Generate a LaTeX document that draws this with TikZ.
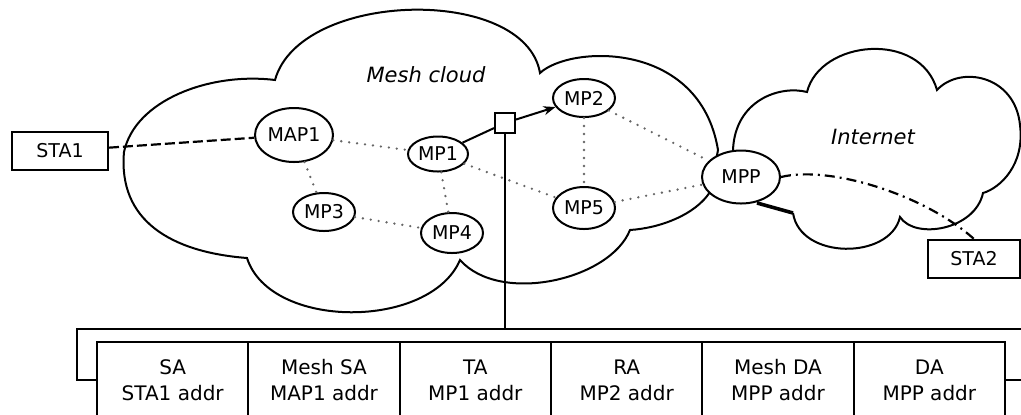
\documentclass[tikz,border=0pt]{standalone}
\usepackage{fontspec}
\setmainfont{DejaVu Sans}
\usetikzlibrary{shapes.geometric,arrows.meta}

\tikzset{
  mp/.style={ellipse,draw,line width=1pt,fill=white,inner sep=0pt,minimum width=31pt,minimum height=19pt,font=\fontsize{9.5}{11}\selectfont},
  bigmp/.style={mp,minimum width=39pt,minimum height=27pt},
  sta/.style={draw,line width=1pt,fill=white,minimum width=48pt,minimum height=19pt,font=\fontsize{9.5}{11}\selectfont},
  field/.style={draw,line width=1.1pt,minimum width=75.67pt,minimum height=38pt,align=center,font=\fontsize{10}{13}\selectfont},
  cloudline/.style={line width=1pt},
  label/.style={font=\itshape\fontsize{10.5}{12}\selectfont},
  radio/.style={gray!80!black,line width=1.3pt,line cap=round,dash pattern=on 0pt off 4pt},
  wired/.style={line width=1.1pt,dash pattern=on 5pt off 2pt},
  route/.style={line width=1.1pt,dash pattern=on 5pt off 2.5pt on 1pt off 2.5pt},
}

\begin{document}
\begin{tikzpicture}[x=0.5pt,y=-0.5pt]
    \useasboundingbox (0,0) rectangle (1021,414);

    % mesh cloud
    \draw[cloudline] (124,152) .. controls (135,100) and (210,72) .. (275,80)
        .. controls (300,-10) and (525,-15) .. (540,73)
        .. controls (570,45) and (700,40) .. (718,150)
        -- (710,192)
        .. controls (695,215) and (660,228) .. (630,230)
        .. controls (610,280) and (500,305) .. (460,260)
        .. controls (430,330) and (270,330) .. (247,258)
        .. controls (170,252) and (118,220) .. (124,152) -- cycle;
    % internet cloud
    \draw[cloudline] (733,150) .. controls (735,100) and (780,85) .. (807,92)
        .. controls (820,40) and (920,30) .. (937,90)
        .. controls (960,65) and (1015,75) .. (1020,125)
        .. controls (1025,165) and (1000,188) .. (983,193)
        .. controls (975,230) and (915,240) .. (900,217)
        .. controls (890,260) and (800,260) .. (793,213);
    \draw[line width=1.8pt] (793,213) -- (757,203);

    \node[label] (meshlbl) at (426,75) {Mesh cloud};
    \node[label] (netlbl) at (873,137) {Internet};

    % stations and mesh points
    \node[sta] (sta1) at (60,151) {STA1};
    \node[sta,minimum width=46pt] (sta2) at (974,259) {STA2};
    \node[bigmp] (map1) at (294,135) {MAP1};
    \node[mp,minimum width=30pt,minimum height=17.5pt] (mp1) at (438,154) {MP1};
    \node[mp] (mp2) at (584,98) {MP2};
    \node[mp] (mp3) at (324,212) {MP3};
    \node[mp,minimum height=20pt] (mp4) at (452,233) {MP4};
    \node[mp,minimum height=21pt] (mp5) at (584,208) {MP5};
    \node[bigmp,minimum height=26.5pt] (mpp) at (741,177) {MPP};
    \node[draw,line width=1pt,fill=white,minimum size=10pt,inner sep=0pt] (sq) at (505,123) {};

    % links
    \draw[wired] (sta1) -- (map1);
    \draw[radio] (map1) -- (mp1);
    \draw[radio] (map1) -- (mp3);
    \draw[radio] (mp3) -- (mp4);
    \draw[radio] (mp1) -- (mp4);
    \draw[radio] (mp1) -- (mp5);
    \draw[radio] (mp2) -- (mp5);
    \draw[radio] (mp2) -- (mpp);
    \draw[radio] (mp5) -- (mpp);
    \draw[line width=1pt] (mp1) -- (sq);
    \draw[line width=1pt,-{Stealth[length=6pt,width=4.5pt]}] (sq) -- (mp2);
    \draw[route] (mpp.east) .. controls (830,165) and (925,195) .. (sta2.north);

    % frame header
    \coordinate (top) at (1021,329);
    \foreach \fld/\who [count=\k] in {SA/STA1,Mesh SA/MAP1,TA/MP1,RA/MP2,Mesh DA/MPP,DA/MPP}
        \node[field] (f\k) at ({97+151.33*(\k-0.5)},380) {\fld\\\who\ addr};
    \draw[line width=1.1pt] (top) -| (77,380) -- (f1.west);
    \draw[line width=1.1pt] (f6.east) -- (1021,380);
    \draw[line width=1.1pt] (sq) -- (sq |- top);
\end{tikzpicture}
\end{document}
